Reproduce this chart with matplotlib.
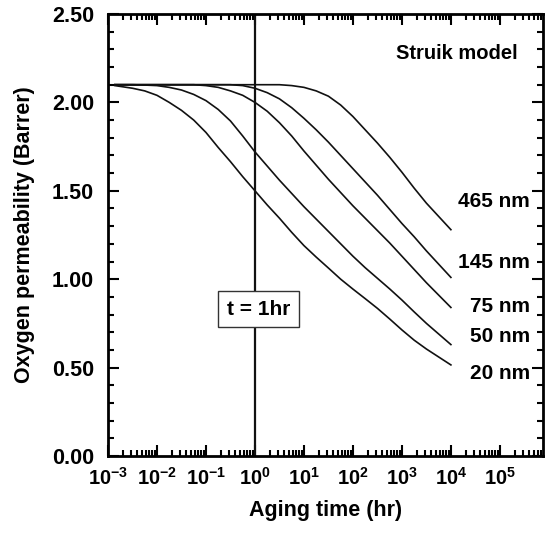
import numpy as np
import matplotlib
matplotlib.use("Agg")
import matplotlib.pyplot as plt
from matplotlib.ticker import LogLocator, MultipleLocator, FuncFormatter

# log10 of aging time (hr) and permeability (Barrer)
log_t = [-2.86, -2.5, -2.25, -2.0, -1.75, -1.5, -1.25, -1.0, -0.75, -0.5, -0.25, 0.0,
         0.25, 0.5, 0.75, 1.0, 1.25, 1.5, 1.75, 2.0, 2.25, 2.5, 2.75, 3.0, 3.25, 3.5, 3.75, 4.0]

perm_20nm = [2.095, 2.08, 2.065, 2.04, 2.00, 1.955, 1.90, 1.83, 1.745, 1.665, 1.58, 1.50,
             1.42, 1.345, 1.265, 1.19, 1.125, 1.063, 1.00, 0.944, 0.89, 0.835, 0.775, 0.713,
             0.655, 0.605, 0.56, 0.515]
perm_50nm = [2.10, 2.10, 2.098, 2.095, 2.085, 2.07, 2.045, 2.01, 1.96, 1.895, 1.81, 1.72,
             1.64, 1.56, 1.485, 1.41, 1.34, 1.27, 1.20, 1.13, 1.065, 1.005, 0.945, 0.882,
             0.815, 0.75, 0.69, 0.63]
perm_75nm = [2.10, 2.10, 2.10, 2.10, 2.10, 2.10, 2.10, 2.095, 2.085, 2.065, 2.04, 2.00,
             1.95, 1.885, 1.81, 1.725, 1.645, 1.565, 1.49, 1.415, 1.345, 1.275, 1.205, 1.13,
             1.055, 0.98, 0.91, 0.84]
perm_145nm = [2.10, 2.10, 2.10, 2.10, 2.10, 2.10, 2.10, 2.10, 2.10, 2.10, 2.095, 2.08,
              2.055, 2.02, 1.97, 1.91, 1.845, 1.775, 1.70, 1.625, 1.55, 1.475, 1.395, 1.315,
              1.24, 1.16, 1.085, 1.01]
perm_465nm = [2.10, 2.10, 2.10, 2.10, 2.10, 2.10, 2.10, 2.10, 2.10, 2.10, 2.10, 2.10,
              2.10, 2.10, 2.095, 2.085, 2.065, 2.035, 1.985, 1.92, 1.845, 1.77, 1.69, 1.605,
              1.515, 1.43, 1.355, 1.28]

labels = ["20 nm", "50 nm", "75 nm", "145 nm", "465 nm"]
label_y = [0.464, 0.673, 0.848, 1.092, 1.437]

plt.rcParams["font.family"] = "Liberation Sans"
plt.rcParams["font.weight"] = "bold"
plt.rcParams["mathtext.fontset"] = "custom"
plt.rcParams["mathtext.rm"] = "Liberation Sans:bold"
plt.rcParams["mathtext.it"] = "Liberation Sans:bold"
plt.rcParams["mathtext.bf"] = "Liberation Sans:bold"

fig = plt.figure(figsize=(5.47, 5.36), dpi=100)
ax = fig.add_axes([0.1974, 0.1493, 0.7953, 0.8246])

t = 10 ** np.array(log_t)
for p in [perm_20nm, perm_50nm, perm_75nm, perm_145nm, perm_465nm]:
    ax.plot(t, p, color="#111111", lw=1.2)

# t = 1 hr marker
ax.axvline(1, color="#111111", lw=1.6)
ax.text(1.2, 0.831, "t = 1hr", ha="center", va="center", fontsize=15, fontweight="bold",
        bbox=dict(facecolor="white", edgecolor="#333333", lw=1, boxstyle="square,pad=0.42"), zorder=5)

for lab, yv in zip(labels, label_y):
    ax.text(10 ** 5.61, yv, lab, ha="right", va="center", fontsize=15, fontweight="bold")
ax.text(10 ** 5.37, 2.274, "Struik model", ha="right", va="center", fontsize=14.5, fontweight="bold")

ax.set_xscale("log")
ax.set_xlim(1e-3, 10 ** 5.88)
ax.set_ylim(0, 2.5)

ax.xaxis.set_major_locator(LogLocator(base=10, numticks=20))
ax.xaxis.set_minor_locator(LogLocator(base=10, subs=np.arange(2, 10), numticks=20))
ax.xaxis.set_major_formatter(FuncFormatter(lambda v, pos: r"$10^{%d}$" % round(np.log10(v))))
ax.yaxis.set_major_locator(MultipleLocator(0.5))
ax.yaxis.set_minor_locator(MultipleLocator(0.1))
ax.yaxis.set_major_formatter(FuncFormatter(lambda v, pos: "%.2f" % v))

ax.tick_params(which="both", direction="in", top=True, right=True, width=1.5)
ax.tick_params(which="major", length=8)
ax.tick_params(which="minor", length=4)
ax.tick_params(axis="y", which="major", pad=10, labelsize=15.5)
ax.tick_params(axis="x", which="major", pad=8, labelsize=14.5)
for s in ax.spines.values():
    s.set_linewidth(2)

ax.set_xlabel("Aging time (hr)", fontsize=15.5, fontweight="bold", labelpad=8)
ax.set_ylabel("Oxygen permeability (Barrer)", fontsize=15.5, fontweight="bold", labelpad=12)

fig.savefig("out.png", dpi=100)
